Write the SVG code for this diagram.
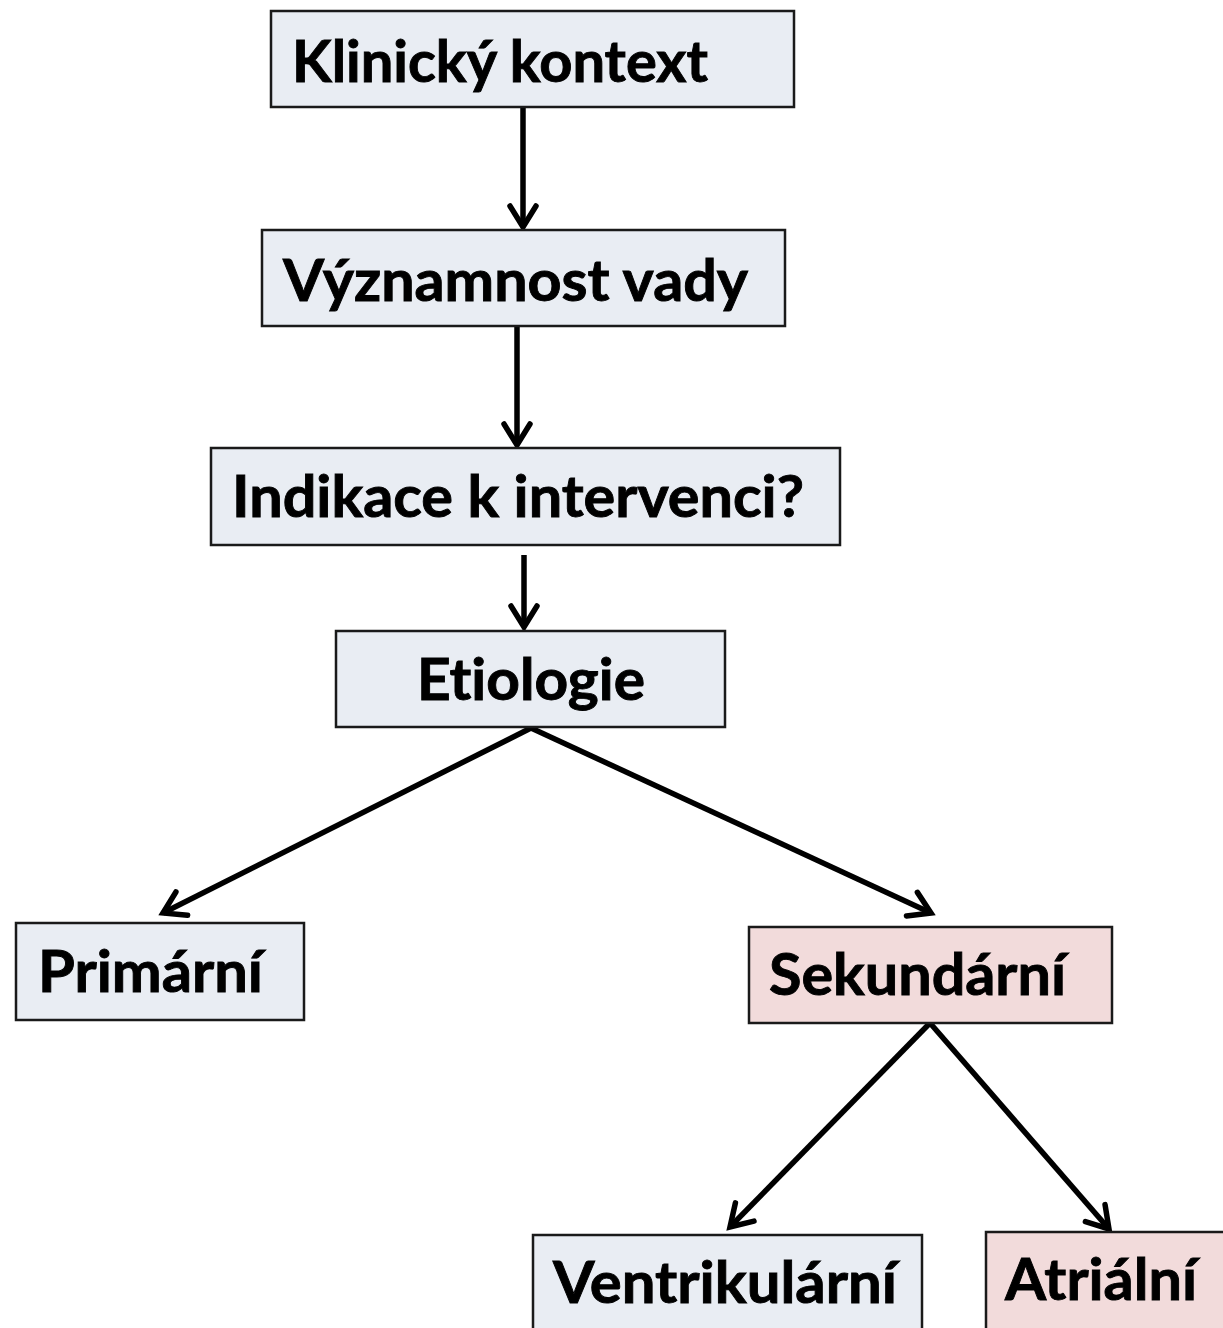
<svg xmlns="http://www.w3.org/2000/svg" width="1223" height="1328" viewBox="0 0 1223 1328">
<style>
.box{stroke:#1a1a1a;stroke-width:2.5}
.blue{fill:#E9EDF3}
.pink{fill:#F2DBDB}
.lbl{font-family:Lato,"Open Sans","Liberation Sans",sans-serif;font-weight:bold;font-size:58px;fill:#000;stroke:#000;stroke-width:0.9;font-variant-ligatures:none}
.conn{stroke:#000;stroke-width:5.5;fill:none;marker-end:url(#arr)}
</style>
<defs>
<marker id="arr" markerUnits="userSpaceOnUse" viewBox="-30 -20 40 40" refX="0" refY="0" markerWidth="40" markerHeight="40" orient="auto">
<path d="M-21,-13 L0,0 L-21,13" fill="none" stroke="#000" stroke-width="5.5" stroke-linecap="round" stroke-linejoin="miter"/>
</marker>
</defs>
<rect width="1223" height="1328" fill="#fff"/>
<g id="connectors">
<line class="conn" x1="523" y1="108" x2="523" y2="227"/>
<line class="conn" x1="517" y1="327" x2="517" y2="445"/>
<line class="conn" x1="524" y1="555" x2="524" y2="627"/>
<line class="conn" x1="531" y1="728" x2="163" y2="913"/>
<line class="conn" x1="531" y1="728" x2="931" y2="913"/>
<line class="conn" x1="930" y1="1023" x2="730" y2="1227"/>
<line class="conn" x1="930" y1="1023" x2="1109" y2="1229"/>
</g>
<g id="n1">
<rect class="box blue" x="271" y="11" width="523" height="96"/>
<text class="lbl" x="292" y="82" textLength="416" lengthAdjust="spacingAndGlyphs">Klinický kontext</text>
</g>
<g id="n2">
<rect class="box blue" x="262" y="230" width="523" height="96"/>
<text class="lbl" x="283" y="301" textLength="465" lengthAdjust="spacingAndGlyphs">Významnost vady</text>
</g>
<g id="n3">
<rect class="box blue" x="211" y="448" width="629" height="97"/>
<text class="lbl" x="232" y="517" textLength="572" lengthAdjust="spacingAndGlyphs">Indikace k intervenci?</text>
</g>
<g id="n4">
<rect class="box blue" x="336" y="631" width="389" height="96"/>
<text class="lbl" x="417" y="700" textLength="228" lengthAdjust="spacingAndGlyphs">Etiologie</text>
</g>
<g id="n5">
<rect class="box blue" x="16" y="923" width="288" height="97"/>
<text class="lbl" x="38" y="992" textLength="225" lengthAdjust="spacingAndGlyphs">Primární</text>
</g>
<g id="n6">
<rect class="box pink" x="749" y="927" width="363" height="96"/>
<text class="lbl" x="769" y="995" textLength="297" lengthAdjust="spacingAndGlyphs">Sekundární</text>
</g>
<g id="n7">
<rect class="box blue" x="533" y="1235" width="389" height="110"/>
<text class="lbl" x="553" y="1303" textLength="344" lengthAdjust="spacingAndGlyphs">Ventrikulární</text>
</g>
<g id="n8">
<rect class="box pink" x="986" y="1232" width="260" height="110"/>
<text class="lbl" x="1005" y="1300" textLength="192" lengthAdjust="spacingAndGlyphs">Atriální</text>
</g>
</svg>
